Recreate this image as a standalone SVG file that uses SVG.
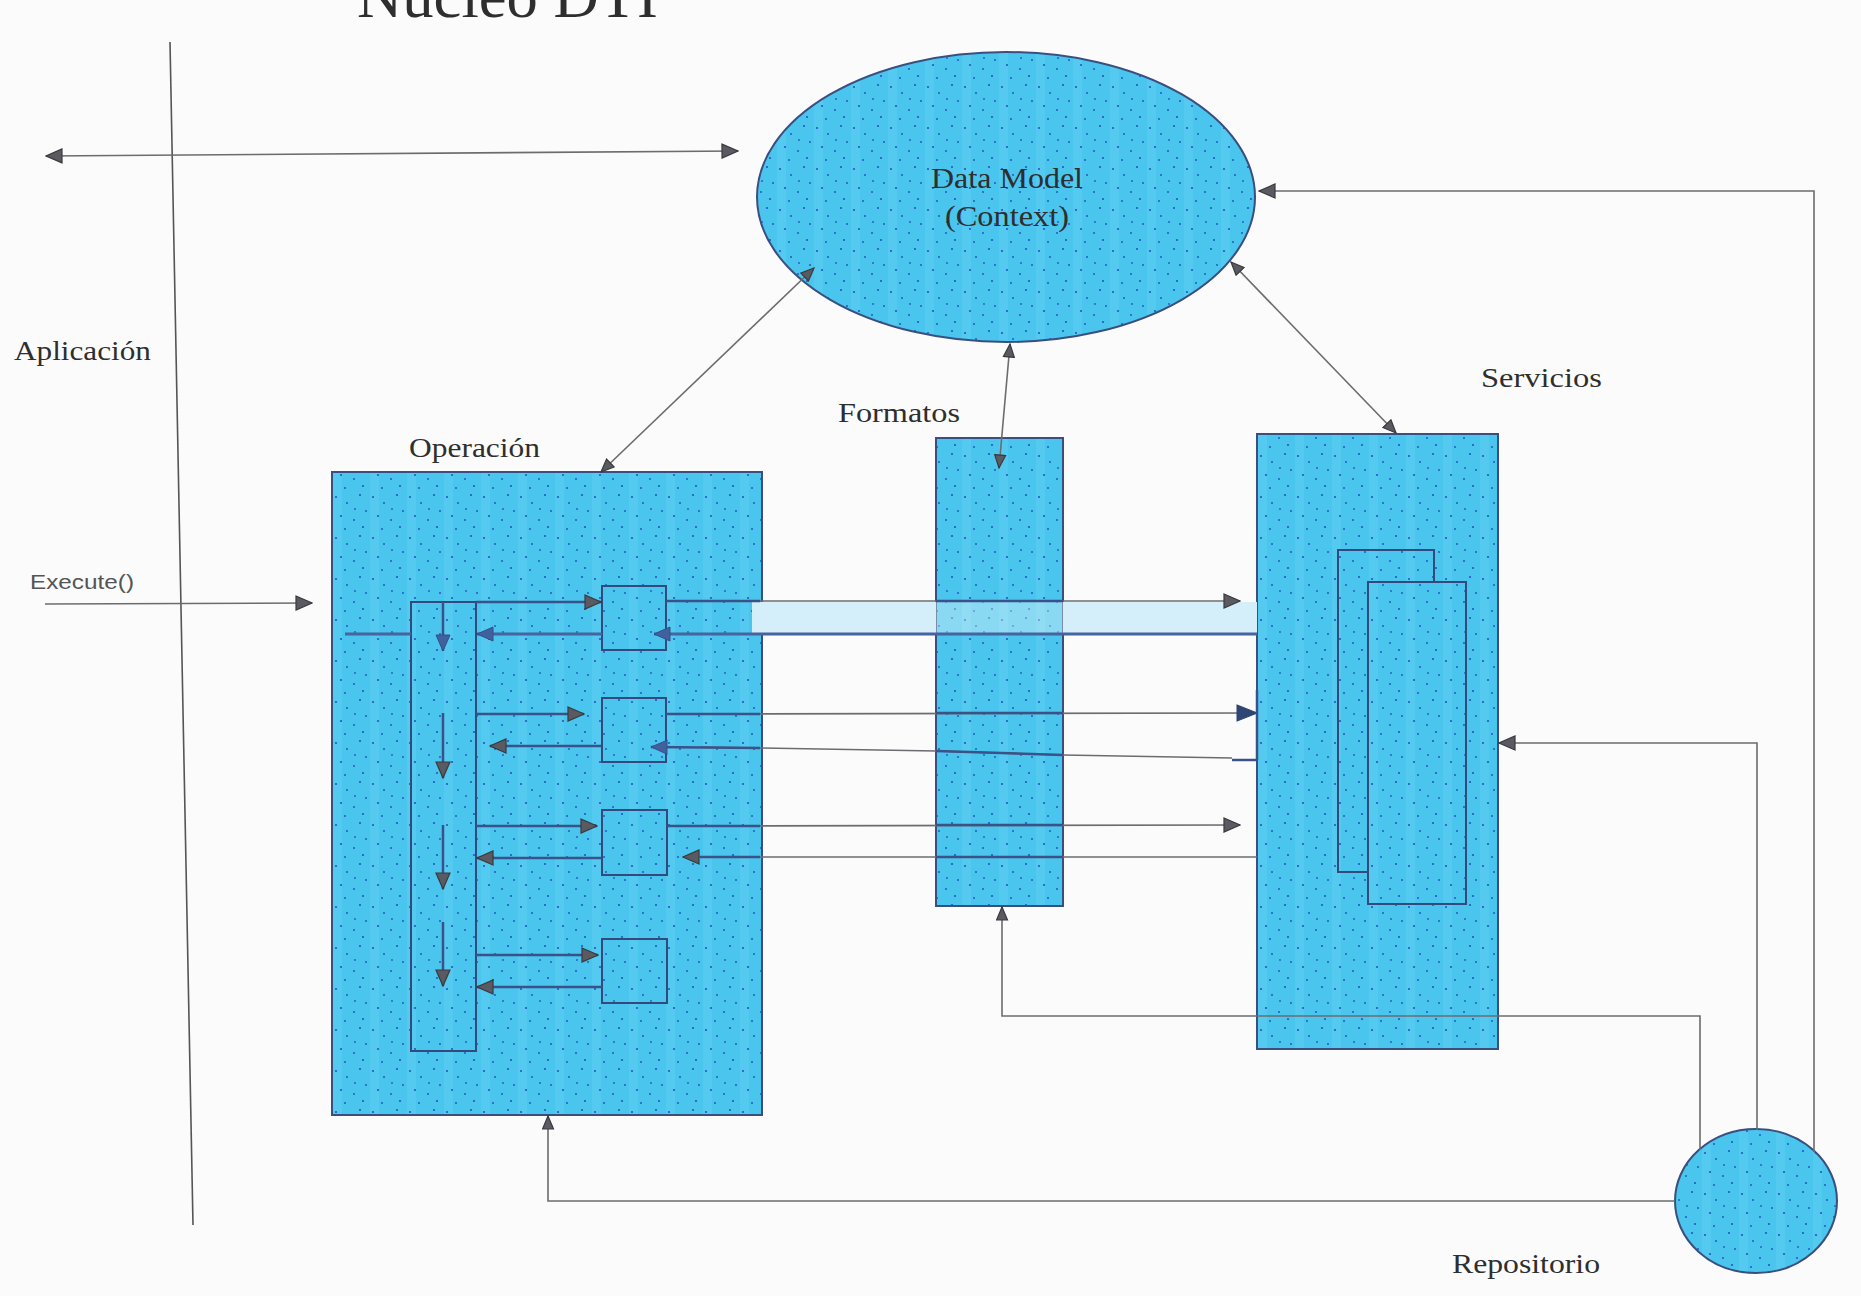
<svg xmlns="http://www.w3.org/2000/svg" width="1861" height="1296" viewBox="0 0 1861 1296">
<style>
.lbl{font-family:"Liberation Serif","Times New Roman",serif;fill:#2e2e2e;}
.box{fill:url(#stip);stroke:#3a4f80;stroke-width:2;}
.inner{fill:url(#stip);stroke:#34497c;stroke-width:2;}
.g{fill:none;stroke:#6c6c70;stroke-width:1.6;}
.n{fill:none;stroke:#3a5288;stroke-width:2.5;}
.b{fill:none;stroke:#4763a0;stroke-width:3;}
</style>
<defs>
<pattern id="stip" width="37" height="41" patternUnits="userSpaceOnUse">
<rect width="37" height="41" fill="#4ac5ed"/>
<rect x="0" width="9" height="41" fill="#5ccdf1" opacity="0.6"/>
<circle cx="3" cy="5" r="1.1" fill="#2457c2"/>
<circle cx="14" cy="11" r="1" fill="#2457c2"/>
<circle cx="27" cy="3" r="1.1" fill="#2457c2"/>
<circle cx="33" cy="19" r="1" fill="#2457c2"/>
<circle cx="8" cy="24" r="1.1" fill="#2457c2"/>
<circle cx="21" cy="28" r="1" fill="#2457c2"/>
<circle cx="30" cy="35" r="1.1" fill="#2457c2"/>
<circle cx="12" cy="37" r="1" fill="#2457c2"/>
<circle cx="22" cy="17" r="0.9" fill="#2457c2"/>
</pattern>
<marker id="ag" viewBox="0 0 18 16" refX="17" refY="8" markerWidth="18" markerHeight="16" orient="auto-start-reverse" markerUnits="userSpaceOnUse"><path d="M1,1 L17,8 L1,15 z" fill="#5a5a62" stroke="#3a3a3e" stroke-width="1.2"/></marker>
<marker id="as" viewBox="0 0 15 13" refX="14" refY="6.5" markerWidth="15" markerHeight="13" orient="auto-start-reverse" markerUnits="userSpaceOnUse"><path d="M1,1 L14,6.5 L1,12 z" fill="#5a5a62" stroke="#3a3a3e" stroke-width="1.2"/></marker>
<marker id="ab" viewBox="0 0 18 16" refX="17" refY="8" markerWidth="18" markerHeight="16" orient="auto" markerUnits="userSpaceOnUse"><path d="M1,1 L17,8 L1,15 z" fill="#40609e" stroke="#34508a" stroke-width="1"/></marker>
<marker id="an" viewBox="0 0 22 18" refX="21" refY="9" markerWidth="22" markerHeight="18" orient="auto" markerUnits="userSpaceOnUse"><path d="M1,1 L21,9 L1,17 z" fill="#2f4675" stroke="#2f4675" stroke-width="1"/></marker>
</defs>
<rect width="1861" height="1296" fill="#fbfbfb"/>

<g id="title"><text class="lbl" x="357" y="17" font-size="62" textLength="301" lengthAdjust="spacingAndGlyphs">Núcleo DTI</text></g>

<g id="aplicacion">
<text class="lbl" x="14" y="360" font-size="27" textLength="137" lengthAdjust="spacingAndGlyphs">Aplicación</text>
<line x1="170" y1="42" x2="193" y2="1225" stroke="#555" stroke-width="1.6"/>
<text x="30" y="589" font-family="Liberation Sans, Arial, sans-serif" font-size="21" fill="#555" textLength="104" lengthAdjust="spacingAndGlyphs">Execute()</text>
</g>

<g id="data-model">
<ellipse cx="1006" cy="197" rx="249" ry="145" class="box"/>
<text class="lbl" x="1007" y="188" font-size="29" text-anchor="middle" textLength="152" lengthAdjust="spacingAndGlyphs">Data Model</text>
<text class="lbl" x="1007" y="226" font-size="29" text-anchor="middle" textLength="124" lengthAdjust="spacingAndGlyphs">(Context)</text>
</g>

<g id="operacion">
<text class="lbl" x="409" y="457" font-size="28" textLength="131" lengthAdjust="spacingAndGlyphs">Operación</text>
<rect x="332" y="472" width="430" height="643" class="box"/>
</g>

<g id="formatos">
<text class="lbl" x="838" y="422" font-size="28" textLength="122" lengthAdjust="spacingAndGlyphs">Formatos</text>
<rect x="936" y="438" width="127" height="468" class="box"/>
</g>

<g id="servicios">
<text class="lbl" x="1481" y="387" font-size="28" textLength="121" lengthAdjust="spacingAndGlyphs">Servicios</text>
<rect x="1257" y="434" width="241" height="615" class="box"/>
</g>

<g id="band">
<rect x="752" y="602" width="184" height="31" fill="#d4eff9"/>
<rect x="936" y="602" width="127" height="31" fill="#ffffff" opacity="0.35"/>
<rect x="1063" y="602" width="194" height="31" fill="#d4eff9"/>
</g>

<g id="servicio-a"><rect x="1338" y="550" width="96" height="322" class="inner"/></g>
<g id="servicio-b"><rect x="1368" y="582" width="98" height="322" class="inner"/></g>

<g id="control"><rect x="411" y="602" width="65" height="449" class="inner"/></g>
<g id="paso-1"><rect x="602" y="586" width="64" height="64" class="inner"/></g>
<g id="paso-2"><rect x="602" y="698" width="64" height="64" class="inner"/></g>
<g id="paso-3"><rect x="602" y="810" width="65" height="65" class="inner"/></g>
<g id="paso-4"><rect x="602" y="939" width="65" height="64" class="inner"/></g>

<g id="repositorio">
<ellipse cx="1756" cy="1201" rx="81" ry="72" class="box" stroke="#3f4f6f"/>
<text class="lbl" x="1452" y="1273" font-size="28" textLength="148" lengthAdjust="spacingAndGlyphs">Repositorio</text>
</g>

<g id="connectors">
<line class="g" x1="46" y1="156" x2="738" y2="151" marker-start="url(#ag)" marker-end="url(#ag)"/>
<line class="g" x1="45" y1="604" x2="312" y2="603" marker-end="url(#ag)"/>
<line class="g" x1="814" y1="268" x2="601" y2="472" marker-start="url(#as)" marker-end="url(#as)"/>
<line class="g" x1="1010" y1="344" x2="999" y2="468" marker-start="url(#as)" marker-end="url(#as)"/>
<line class="g" x1="1231" y1="262" x2="1396" y2="433" marker-start="url(#as)" marker-end="url(#as)"/>
<polyline class="g" points="1814,1152 1814,191 1259,191" marker-end="url(#ag)"/>
<polyline class="g" points="1757,1130 1757,743 1499,743" marker-end="url(#ag)"/>
<polyline class="g" points="1700,1150 1700,1016 1002,1016 1002,907" marker-end="url(#as)"/>
<polyline class="g" points="1675,1201 548,1201 548,1116" marker-end="url(#as)"/>

<line class="n" x1="476" y1="602" x2="601" y2="602" marker-end="url(#ag)"/>
<line class="g" x1="666" y1="601" x2="1240" y2="601" marker-end="url(#ag)"/>
<line class="n" x1="666" y1="601" x2="760" y2="601"/>
<line class="n" x1="936" y1="601" x2="1063" y2="601"/>
<line class="b" x1="345" y1="634" x2="411" y2="634"/>
<line class="b" x1="602" y1="634" x2="477" y2="634" marker-end="url(#ab)"/>
<line class="b" x1="1257" y1="634" x2="654" y2="634" marker-end="url(#ab)"/>
<line class="n" x1="443" y1="602" x2="443" y2="651" marker-end="url(#ab)"/>

<line class="n" x1="476" y1="714" x2="584" y2="714" marker-end="url(#ag)"/>
<line class="n" x1="601" y1="746" x2="490" y2="746" marker-end="url(#ag)"/>
<line class="g" x1="666" y1="714" x2="1257" y2="713" marker-end="url(#an)"/>
<line class="n" x1="666" y1="714" x2="760" y2="714"/>
<line class="n" x1="936" y1="713" x2="1063" y2="713"/>
<polyline class="g" points="1232,758 1063,755 936,751 760,748 700,747"/>
<polyline class="n" points="1063,755 936,751"/>
<polyline class="n" points="1257,760 1232,760"/>
<line class="n" x1="760" y1="748" x2="651" y2="747" marker-end="url(#ab)"/>
<line class="n" x1="1257" y1="690" x2="1257" y2="760" stroke-width="3"/>
<line class="n" x1="443" y1="713" x2="443" y2="778" marker-end="url(#ag)"/>

<line class="n" x1="476" y1="826" x2="597" y2="826" marker-end="url(#ag)"/>
<line class="n" x1="602" y1="858" x2="477" y2="858" marker-end="url(#ag)"/>
<line class="g" x1="667" y1="826" x2="1240" y2="825" marker-end="url(#ag)"/>
<line class="n" x1="667" y1="826" x2="760" y2="826"/>
<line class="n" x1="936" y1="825" x2="1063" y2="825"/>
<line class="g" x1="1257" y1="857" x2="683" y2="857" marker-end="url(#ag)"/>
<line class="n" x1="760" y1="857" x2="700" y2="857"/>
<line class="n" x1="936" y1="857" x2="1063" y2="857"/>
<line class="n" x1="443" y1="825" x2="443" y2="889" marker-end="url(#ag)"/>

<line class="n" x1="476" y1="955" x2="598" y2="955" marker-end="url(#ag)"/>
<line class="n" x1="602" y1="987" x2="477" y2="987" marker-end="url(#ag)"/>
<line class="n" x1="443" y1="922" x2="443" y2="986" marker-end="url(#ag)"/>
</g>
</svg>
